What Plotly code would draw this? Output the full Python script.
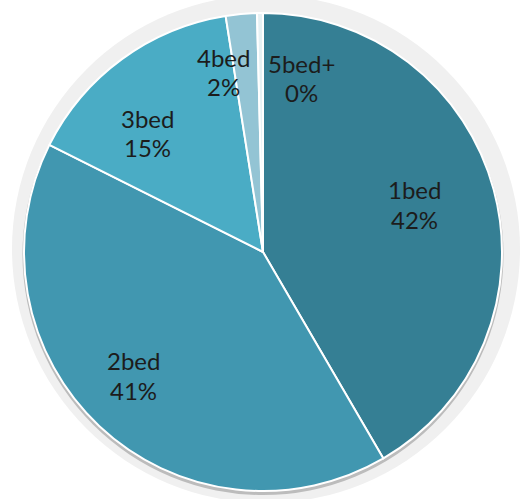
import plotly.graph_objects as go

# Share of dwellings by number of bedrooms
categories = ["1bed", "2bed", "3bed", "4bed", "5bed+"]
shares = [41.6, 40.8, 15.1, 2.1, 0.4]
slice_colors = ["#357f94", "#4197b0", "#4aacc5", "#93c4d4", "#e6f1f4"]

W, H = 528, 499
cx, cy, R = 263, 252, 239  # pie centre and radius in pixels (top-left origin)

fig = go.Figure()
fig.add_trace(go.Pie(
    labels=categories,
    values=shares,
    sort=False,
    direction="clockwise",
    rotation=0,
    textinfo="none",
    hoverinfo="label+percent",
    marker=dict(colors=slice_colors, line=dict(color="white", width=2)),
    domain=dict(x=[(cx - R) / W, (cx + R) / W],
                y=[(H - cy - R) / H, (H - cy + R) / H]),
    showlegend=False,
))


def circle(x0, y0, r, fill):
    return dict(type="circle", xref="paper", yref="paper", layer="below",
                x0=(x0 - r) / W, x1=(x0 + r) / W,
                y0=(H - y0 - r) / H, y1=(H - y0 + r) / H,
                fillcolor=fill, line=dict(width=0))


# soft halo and thin drop shadow behind the pie
fig.update_layout(shapes=[
    circle(266, 249, 254, "#f0f0f0"),
    circle(263, 254.5, 240.5, "#bcbcbc"),
])

# label block centres (pixels)
label_pos = [(414, 204), (133, 375), (147, 133), (223, 72), (301, 78)]
total = sum(shares)
annotations = []
for name, v, (lx, ly) in zip(categories, shares, label_pos):
    pct = f"{round(v / total * 100)}%"
    for txt, dy in ((name, -15), (pct, 15)):
        annotations.append(dict(
            text=txt, xref="paper", yref="paper",
            x=lx / W, y=(H - ly - dy) / H,
            xanchor="center", yanchor="middle", showarrow=False,
            font=dict(family="Lato", size=24, color="#1c1c1c"),
        ))

fig.update_layout(
    width=W, height=H,
    margin=dict(l=0, r=0, t=0, b=0),
    paper_bgcolor="white", plot_bgcolor="white",
    annotations=annotations,
)

fig.write_html("out.html")
